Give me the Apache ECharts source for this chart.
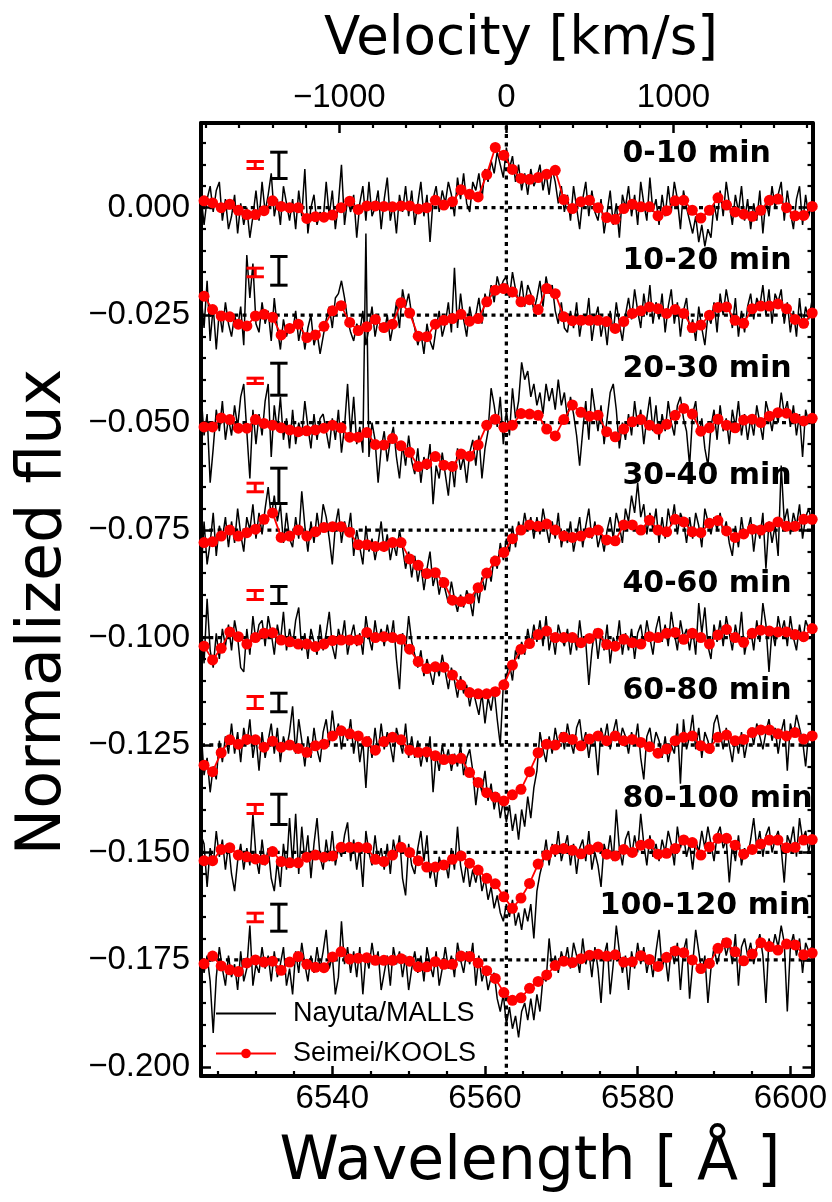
<!DOCTYPE html>
<html lang="en">
<head>
<meta charset="utf-8">
<title>H-alpha time-resolved spectra</title>
<style>
html, body { margin: 0; background: #fff; }
#container { width: 832px; height: 1202px; }
</style>
</head>
<body>
<div id="container"></div>
<script src="https://cdn.jsdelivr.net/npm/echarts@6/dist/echarts.min.js"></script>
<script>

// ---- axis ranges / tick labels ----
var waveMin = 6522.8, waveMax = 6602.9;
var fluxMin = -0.202, fluxMax = 0.0197;
var lambda0 = 6562.8;            // H-alpha rest wavelength
var cKms = 299792.458;
var waveTicks = [6540, 6560, 6580, 6600];
var velTicks = [-1000, 0, 1000];
var fluxTicks = [0, -0.025, -0.05, -0.075, -0.1, -0.125, -0.15, -0.175, -0.2];

// ---- panels ----
var panelLabels = ['0-10 min', '10-20 min', '20-30 min', '30-40 min', '40-60 min', '60-80 min', '80-100 min', '100-120 min'];
var baselines = [0, -0.025, -0.05, -0.075, -0.1, -0.125, -0.15, -0.175];
var labelWave = [6578, 6578, 6578, 6578, 6578, 6578, 6578, 6575];

// Nayuta/MALLS: sampled every 0.4 A from 6522.8 A, offsets from baseline in 0.001 units
var mallsStart = 6522.8, mallsStep = 0.4;
var malls0 = [3,-4,2,5,-1,4,6,-3,2,-5, -2,3,-6,1,-4,0,-7,-2,4,-3, 6,-1,3,8,-2,2,-4,5,1,-3, 2,-5,4,-2,9,-6,0,3,-4,-1,
  -3,6,-2,4,-5,1,10,-4,2,-1, 3,-7,1,5,-3,6,-2,0,4,-5, 2,7,-3,1,-6,3,-1,5,-2,4, -4,1,6,-2,3,-8,2,5,-1,4,
  1,6,3,-2,7,2,8,1,-1,6, 4,8,2,9,6,11,8,13,10,7, 14,9,12,6,10,4,8,3,9,5, 7,10,4,8,3,9,6,1,5,-1,
  3,-3,5,0,-5,2,6,-2,4,-1, -3,2,-6,-1,4,-4,1,-7,3,0, 5,-2,3,-4,6,1,-3,7,-1,2, -4,3,-2,5,-1,6,2,-5,4,0,
  -3,-6,-2,-8,-4,-9,-5,-7,1,-3, 4,-2,6,1,-4,3,-1,5,-3,2, -5,1,-3,4,-6,2,-2,5,0,3, 6,-3,4,-1,-5,2,5,-4,3,-2,1];
var malls1 = [5,-3,8,-6,2,-8,1,-4,3,-2, -5,0,-3,2,-7,14,4,12,-2,-4, 3,-2,1,-6,4,-3,-8,-1,-5,-2, -4,1,-6,-2,-8,-3,0,-7,-4,-9,
  -5,-1,2,-3,4,5,8,4,-1,-4, -6,-2,-4,1,-7,-3,2,-5,-1,-3, -4,0,-6,-2,3,-3,6,2,5,0, -3,-7,-4,-9,-2,-6,-8,-3,1,-5,
  -2,3,-4,11,-3,5,-1,-5,2,-2, 0,4,-2,5,2,7,3,9,6,8, 9,4,10,6,3,8,2,7,5,1, 4,8,2,9,5,7,1,-2,3,-3,
  -4,1,-3,3,-5,0,-2,4,-6,-1, 2,-5,-1,-7,1,-4,3,-2,-6,0, 4,-1,6,1,-3,5,0,7,-2,3, -1,5,-4,2,6,-2,3,-5,1,4,
  -4,-1,-6,2,-3,-7,0,-2,3,-4, 5,0,6,2,-3,4,-5,1,-4,2, 5,-1,4,2,7,0,6,-2,5,3, 6,-2,3,-4,1,-5,4,-3,2,-1,3];
var malls2 = [7,-3,2,-14,-6,3,-2,5,-4,1, -3,4,-1,6,9,-2,-13,3,-5,2, -3,5,9,-8,4,-2,6,-4,1,-6, 3,-5,0,-3,5,-1,-6,2,-4,1,
  2,-2,-6,1,-4,3,-7,-1,9,-3, 6,-5,-1,-7,44,-8,0,-4,-14,-6, -2,-9,-4,-1,-8,-13,-5,-10,-3,-9, -12,-6,-14,-8,-11,-5,-19,-10,-13,-7,
  -12,-17,-9,-15,-6,-11,-8,-14,-7,-4, -10,-3,-13,-6,-2,8,4,-1,6,-5, 3,-3,8,1,5,14,10,12,6,9, 4,7,2,9,5,8,3,10,4,7,
  1,6,2,-3,-10,-2,5,-4,8,3, -2,4,-5,1,7,9,3,-6,0,-4, 2,-3,5,-1,3,-5,1,6,-2,4, -4,2,-2,5,0,-3,4,6,1,-2,
  -10,2,5,-3,1,-6,-10,-1,3,-4, 4,-2,1,-5,3,-1,5,-3,2,-4, 1,-3,4,0,-4,5,2,-2,3,0, 7,2,5,-1,4,-3,2,-8,3,0,2];
var malls3 = [-11,2,-8,-3,4,-6,1,-2,3,-4, 2,-3,5,-1,-5,3,0,6,-2,4, -1,5,10,3,8,2,6,-3,4,-2, -4,3,-2,9,1,-5,2,-3,4,-1,
  6,3,-2,-8,1,5,-3,2,-1,4, -6,0,-4,-8,1,-5,-2,-7,-3,2, -5,-1,-7,-3,-6,0,-4,-9,-5,-11, -6,-12,-8,-14,-9,-5,-13,-10,-15,-11,
  -14,-17,-12,-16,-19,-15,-18,-14,-16,-20, -13,-17,-11,-14,-9,-12,-6,-9,-3,-7, -2,-5,1,-4,2,-1,4,0,3,-2, 3,-1,5,1,-3,2,-2,4,-4,0,
  -3,2,-5,-1,3,-4,1,5,-2,2, -4,-1,-5,0,3,-2,4,1,-3,5, 2,8,4,11,3,6,-1,4,0,5, -3,3,-2,5,1,6,-1,4,2,-3,
  3,-2,4,1,-4,5,2,-1,3,0, 4,-1,2,-3,-6,1,-4,3,-2,0, 3,-5,1,-2,4,-9,2,-3,1,-6, 15,2,5,-1,4,1,6,-2,3,5,2];
var malls4 = [4,-6,9,-3,-7,1,-5,2,-2,3, -3,4,0,-7,-8,2,-4,5,-1,3, 4,-2,5,1,-4,3,-1,6,-3,2, -2,4,7,-3,1,-5,2,-1,-4,3,
  -3,1,6,-2,-5,2,-1,4,-4,0, 3,-2,1,-4,5,0,-3,4,-1,2, -2,3,-1,4,-5,-12,1,-3,5,-1, -4,-7,-3,-9,-5,-8,-11,-6,-9,-4,
  -8,-12,-7,-10,-14,-9,-13,-11,-16,-12, -15,-18,-13,-20,-14,-17,-12,-19,-25,-11, -9,-6,-10,-3,-5,-1,-4,2,-2,3, -1,4,-2,5,-3,1,-4,3,0,-2,
  2,-4,1,-3,4,-2,-1,-11,-3,2, -5,1,-3,3,-6,0,-2,4,-4,1, -3,2,-5,1,3,-2,4,0,-4,2, 5,-1,3,-2,6,1,-3,4,0,2,
  -3,2,-4,8,1,7,-2,-5,3,-1, 4,-2,5,1,-3,3,-1,6,-4,0, 2,-3,4,-1,8,3,-8,2,-2,5, 1,4,-2,5,0,-3,3,-1,4,2,1];
var malls5 = [4,-7,-3,-11,-5,-8,1,-4,2,-2, 5,-2,3,-4,4,0,6,-3,2,-6, 3,-3,1,5,-2,4,-4,2,-1,3, 9,-2,6,1,-5,2,-3,4,-1,-4,
  3,6,0,8,2,5,-1,4,1,6, -2,3,-4,1,-10,2,-3,4,-2,5, -1,3,0,-4,4,1,-2,5,-3,2, -3,1,-5,-1,-4,2,-11,-2,-6,0,
  -4,-1,-6,-2,-5,0,-7,-3,-1,-6, -14,-8,-11,-6,-13,-9,-15,-11,-17,-13, -18,-14,-20,-16,-22,-15,-19,-12,-17,-10, -6,3,-1,-4,2,-2,4,0,3,-1,
  5,1,-2,4,6,0,3,-3,2,1, -7,4,1,5,-1,3,6,0,4,2, -2,3,0,5,-3,-8,2,4,-1,3, 1,-3,2,-4,0,-2,5,-9,6,-1,
  2,7,-1,4,-3,3,1,-2,5,7, 3,-1,4,0,-4,2,-2,3,-3,1, 4,0,5,2,-1,3,6,1,4,-2, 3,6,-6,5,2,7,4,1,-5,3,2];
var malls6 = [4,2,-8,1,-3,5,-1,3,-4,2, -5,-9,-2,2,-4,1,-3,9,-1,-5, 3,-3,1,-6,-9,-2,-8,2,-4,8, -3,9,-5,6,-2,4,-6,2,8,-1,
  -4,3,-2,5,-3,1,-1,4,7,-2, 3,-4,1,-8,5,0,-3,4,-2,1, -4,2,-5,3,-1,4,-6,-10,2,-3, -5,1,5,-2,4,-6,-3,-8,-1,-4,
  -2,-6,1,-4,6,-3,-7,-2,-8,-4, -7,-3,-9,-6,-11,-8,-13,-10,-14,-16, -12,-15,-11,-17,-14,-18,-13,-16,-12,-20, -9,-5,-2,3,-3,2,-1,5,-2,1,
  4,-3,2,-5,1,3,-2,5,-4,0, -3,-8,2,-1,4,-2,10,1,-3,3, 5,-1,4,0,9,2,-3,4,-1,2, -2,3,0,5,2,-3,6,1,4,-1,
  2,-4,3,0,5,1,6,2,-2,4, 6,1,3,-7,2,-2,4,-3,1,-1, 3,8,1,5,-1,4,6,0,3,5, 1,-7,4,2,6,-1,8,3,5,0,4];
var malls7 = [2,-3,1,-5,-17,-4,3,-2,-6,1, -4,-1,-7,2,-5,-2,8,-6,-1,-3, 3,-2,1,-5,2,-4,-1,3,-6,-2, -8,2,-3,4,-1,-5,1,-3,3,-2,
  2,7,-2,1,-8,-4,9,-1,3,-3, 2,-4,3,-8,1,-2,4,-1,2,-7, -3,1,-6,3,-1,2,-4,1,-7,-2, 2,-3,1,-5,3,-1,-4,2,-6,-2,
  3,-2,1,-4,4,0,-3,2,-1,4, -6,1,-5,-2,-7,-4,-3,-9,-12,-8, -15,-11,-16,-13,-18,-12,-10,-14,-9,-14, -8,-12,-4,-5,5,-2,1,-3,2,-1,
  3,-2,4,1,-3,5,-1,2,-4,3, -2,-10,1,4,-8,-1,8,2,-3,1, -7,2,-2,4,-1,3,-3,1,-4,2, 7,-2,1,-5,3,-1,4,-7,2,5,
  -9,-1,7,2,-3,1,-10,-2,3,-1, 2,5,1,4,-1,6,-6,3,5,1, 4,-1,3,6,1,-10,5,2,6,3, 8,4,-12,3,6,1,5,-3,4,2,3];

// Seimei/KOOLS: sampled every 1.122 A from 6523.2 A, offsets from baseline in 0.001 units
var koolsStart = 6523.2, koolsStep = 1.122;
var kools0 = [1.6,1.1,0,0.8,-0.6,-1.6,-1.6,-0.7,1.6,0.3,0,0,-2.5,-2.1,-2.2,-1.7,0,1.5,-0.4,0.4,0.4,0.3,0.2,0.4,0.4,-0.3,0,1.7,0.6,1.4,
  4.2,3.1,2.5,7.7,14.0,12.2,8.9,6.8,6.6,7.0,7.8,8.7,1.9,-0.2,1.4,1.7,0,-2.3,-2.7,-0.2,0.8,0.2,0.2,-1.9,-0.7,1.6,1.7,-0.6,-2.4,-0.6,
  2.3,0.6,-1.0,-1.5,-2.0,-0.6,1.7,2.0,0,-1.9,-1.8,0.3];
var kools1 = [4.4,1.3,-0.2,-0.4,-2.1,-2.5,-0.2,0.2,-0.5,-4.6,-3.1,-2.1,-5.2,-4.6,-2.6,1.0,2.2,-1.7,-3.6,-2.7,-1.0,-2.9,-2.1,2.9,0.5,-4.9,-5.0,-2.1,-1.2,-0.8,
  0.2,-1.4,-0.8,3.1,5.8,6.2,5.4,3.1,3.6,1.3,6.2,5.0,-0.4,-1.3,-1.2,-1.2,-1.2,-1.5,-3.1,-1.5,0.4,1.0,1.9,1.5,0.4,1.3,0.4,-2.9,-2.3,0,
  1.8,1.9,-1.2,-1.9,1.5,2.1,2.1,2.6,1.5,-1.0,-1.9,0.5];
var kools2 = [-1.0,-1.0,1.1,0.7,-1.3,-1.3,0.7,-0.2,-0.6,-1.2,-1.7,-2.1,-1.9,-1.7,-1.3,-0.6,-1.2,-3.4,-3.4,-2.3,-5.1,-5.2,-3.7,-5.4,-6.9,-10.2,-9.6,-7.9,-9.9,-10.2,
  -7.3,-7.8,-5.2,-0.6,0.8,-1.1,-0.6,2.1,2.0,1.7,-1.5,-3.1,0.7,4.1,2.4,1.5,1.7,-2.1,-3.3,-1.5,0.2,0.7,-0.6,-1.5,-0.4,1.7,3.3,2.0,-2.0,-1.2,
  0.8,-0.6,-1.2,0.6,0.8,0,1.5,2.3,2.2,1.0,0.4,1.0];
var kools3 = [-2.9,-2.7,-1.4,0,-1.4,-0.6,0.2,2.5,4.0,-1.7,-1.4,0,-1.4,-0.4,0.6,0.8,0.8,-0.5,-3.4,-3.4,-3.8,-3.8,-2.9,-2.9,-6.7,-8.2,-10.1,-9.9,-12.2,-16.3,
  -16.6,-16.0,-13.4,-10.0,-7.2,-5.2,-2.0,0,1.2,0.9,1.4,0,-1.4,-1.7,-1.4,-0.6,0,-2.3,-2.5,1.2,1.2,0,2.3,0,-0.4,2.5,1.9,-0.4,-0.6,1.6,
  2.2,-0.2,-1.7,-0.9,0.2,0,0.8,1.9,0.9,0.9,2.5,2.5];
var kools4 = [-2.0,-5.2,-2.5,1.3,0.2,-1.5,0,1.0,1.1,-0.6,-1.0,-1.5,-1.5,-2.1,-1.5,-0.7,-0.6,-0.6,-0.6,1.2,0,0.2,0,-0.4,-2.7,-5.6,-7.2,-6.8,-6.9,-8.7,
  -11.0,-12.8,-13.1,-13.1,-12.6,-11.0,-6.4,-2.7,-1.4,0.7,1.5,0,0,0,-1.2,-0.2,1.0,-1.6,-2.0,-0.4,-1.2,-1.5,0.2,0,1.0,1.2,-0.4,1.0,0,-1.5,
  0.6,1.9,0,-1.1,1.0,1.7,1.5,1.3,1.3,0.7,0.2,2.1];
var kools5 = [-4.7,-6.2,-1.8,1.2,0.2,1.3,1.2,-0.5,0.9,-0.5,0,-0.8,-1.7,-0.2,0.2,2.1,3.3,2.6,2.1,0.8,-1.2,0.8,1.8,1.2,-1.2,-1.7,-1.6,-2.5,-3.4,-3.3,
  -3.1,-6.4,-8.7,-11.1,-12.1,-13.0,-11.6,-10.3,-6.2,-1.8,0.2,0,1.8,1.3,-0.2,1.4,2.1,1.0,2.1,1.0,1.3,0.6,-0.4,-1.9,-0.9,1.0,1.8,2.1,-0.2,-0.8,
  1.8,2.3,1.0,1.3,2.9,3.5,3.5,2.6,2.1,2.9,1.4,2.1];
var kools6 = [-1.9,-1.9,0.7,1.1,-0.6,-1.0,-1.5,-1.7,0.2,-2.1,-2.4,-2.4,-1.1,-0.6,-1.1,-0.8,1.2,1.2,1.2,1.1,-1.6,-2.1,-0.6,1.2,0,-1.9,-3.4,-3.4,-2.9,-1.6,
  -0.8,-2.5,-4.1,-6.0,-7.3,-10.3,-13.0,-10.6,-7.2,-2.7,-0.6,0.7,0.9,0.5,-0.3,0.7,1.3,-0.4,-0.8,0.7,0,1.7,2.0,-0.4,-0.2,0.9,2.9,2.3,-0.6,1.3,
  3.3,3.3,1.7,-0.4,0.7,2.0,2.9,2.9,1.1,1.2,2.9,3.0];
var kools7 = [-0.9,0.9,-1.4,-2.3,-2.7,-0.7,0,-0.5,-0.3,-2.4,-0.5,0.8,-1.0,-1.7,-1.8,0.7,1.9,0.2,0.4,0.5,-0.1,-0.1,-0.1,0.3,-0.3,-1.6,-1.6,-0.4,-1.0,-1.0,
  0.9,0.8,-0.7,-2.5,-4.3,-7.6,-9.4,-8.8,-6.6,-5.0,-3.5,-1.3,-0.3,-0.6,0.3,1.1,1.3,0.9,1.2,-0.5,-0.4,1.0,0.1,-1.5,0.6,2.1,1.7,0,-2.0,-0.8,
  2.7,4.0,1.9,-0.2,1.4,4.0,3.1,2.3,3.7,3.5,1.2,1.6];

// typical error bars (centre and half length, flux units)
var mallsErrWave = 6533.0, koolsErrWave = 6529.9;
var mallsErrCenter = [0.00985, -0.01469, -0.0399, -0.06471, -0.0901, -0.11511, -0.13997, -0.16517];
var mallsErrHalf = [0.00306, 0.00334, 0.00372, 0.00411, 0.00198, 0.00216, 0.00352, 0.00314];
var koolsErrCenter = [0.00993, -0.01507, -0.04028, -0.06509, -0.0901, -0.11511, -0.13988, -0.16512];
var koolsErrHalf = [0.00081, 0.001, 0.00062, 0.001, 0.00105, 0.0014, 0.00105, 0.001];

var mallsPanels = [malls0, malls1, malls2, malls3, malls4, malls5, malls6, malls7];
var koolsPanels = [kools0, kools1, kools2, kools3, kools4, kools5, kools6, kools7];

var dom = document.getElementById('container');
var myChart = echarts.init(dom, null, { renderer: 'canvas' });

var tickFont = 'Liberation Sans, Arial, sans-serif';
var titleFont = 'DejaVu Sans, sans-serif';
var black = '#000000';
var red = '#ff0000';

function toVel(w) { return (w / lambda0 - 1) * cKms; }
function minus(s) { return s.replace('-', '\u2212'); }

// minor tick positions
var waveMinor = [];
for (var w = 6525; w <= 6600; w += 5) { if (w % 20 !== 0) waveMinor.push(w); }
var velMinor = [];
for (var v = -1800; v <= 1800; v += 200) { if (v % 1000 !== 0) velMinor.push(v); }
var fluxMinor = [];
for (var k = 3; k >= -40; k--) { if (k % 5 !== 0) fluxMinor.push(k * 0.005); }

function valueAxis(pos, min, max, major, minor, withLabels, fmt, margin) {
    return [{
        type: 'value', position: pos, min: min, max: max,
        axisLine: { show: true, onZero: false, lineStyle: { color: black, width: 4 } },
        axisTick: { show: true, inside: true, length: 10, customValues: major, lineStyle: { color: black, width: 2.5 } },
        axisLabel: { show: withLabels, customValues: major, formatter: fmt, color: black,
            fontFamily: tickFont, fontSize: 33, margin: margin },
        splitLine: { show: false }
    }, {
        type: 'value', position: pos, min: min, max: max,
        axisLine: { show: false, onZero: false },
        axisTick: { show: true, inside: true, length: 5, customValues: minor, lineStyle: { color: black, width: 2.2 } },
        axisLabel: { show: false },
        splitLine: { show: false }
    }];
}

var xAxes = valueAxis('bottom', waveMin, waveMax, waveTicks, waveMinor, true,
    function (v) { return String(v); }, 6)
    .concat(valueAxis('top', toVel(waveMin), toVel(waveMax), velTicks, velMinor, true,
    function (v) { return minus(String(Math.round(v))); }, 9));
var yAxes = valueAxis('left', fluxMin, fluxMax, fluxTicks, fluxMinor, true,
    function (v) { return minus(v.toFixed(3)); }, 11)
    .concat(valueAxis('right', fluxMin, fluxMax, fluxTicks, fluxMinor, false, null, 8));

var series = [];

// dotted guides: baselines and rest wavelength
baselines.forEach(function (b) {
    series.push({
        type: 'line', silent: true, symbol: 'none', z: 1,
        data: [[waveMin, b], [waveMax, b]],
        lineStyle: { color: black, width: 3.3, type: [4, 4.3] }
    });
});
series.push({
    type: 'line', silent: true, symbol: 'none', z: 1,
    data: [[lambda0, fluxMin], [lambda0, fluxMax]],
    lineStyle: { color: black, width: 3.3, type: [4, 4.3] }
});

mallsPanels.forEach(function (arr, p) {
    series.push({
        name: 'Nayuta/MALLS', type: 'line', symbol: 'none', showSymbol: false, z: 2,
        data: arr.map(function (v, j) { return [mallsStart + mallsStep * j, baselines[p] + v / 1000]; }),
        lineStyle: { color: black, width: 1.5 },
        itemStyle: { color: black }
    });
});

koolsPanels.forEach(function (arr, p) {
    series.push({
        name: 'Seimei/KOOLS', type: 'line', symbol: 'circle', symbolSize: 11, z: 3,
        data: arr.map(function (v, i) { return [koolsStart + koolsStep * i, baselines[p] + v / 1000]; }),
        lineStyle: { color: red, width: 1.8 },
        itemStyle: { color: red }
    });
});

function errorBars(wave, centers, halves, color) {
    return {
        type: 'custom', z: 4, silent: true,
        data: centers.map(function (c, p) { return [wave, c - halves[p], c + halves[p]]; }),
        renderItem: function (params, api) {
            var lo = api.coord([api.value(0), api.value(1)]);
            var hi = api.coord([api.value(0), api.value(2)]);
            var w = 8.7;
            var st = { stroke: color, lineWidth: 3 };
            return {
                type: 'group',
                children: [
                    { type: 'line', shape: { x1: lo[0], y1: lo[1], x2: hi[0], y2: hi[1] }, style: st },
                    { type: 'line', shape: { x1: lo[0] - w, y1: lo[1], x2: lo[0] + w, y2: lo[1] }, style: st },
                    { type: 'line', shape: { x1: hi[0] - w, y1: hi[1], x2: hi[0] + w, y2: hi[1] }, style: st }
                ]
            };
        }
    };
}
series.push(errorBars(koolsErrWave, koolsErrCenter, koolsErrHalf, red));
series.push(errorBars(mallsErrWave, mallsErrCenter, mallsErrHalf, black));

// time-bin labels
series.push({
    type: 'scatter', z: 5, silent: true, symbolSize: 0,
    itemStyle: { opacity: 1 },
    data: panelLabels.map(function (name, p) {
        return { name: name, value: [labelWave[p], baselines[p] + 0.0125] };
    }),
    label: {
        show: true, position: 'right', distance: 0, formatter: '{b}', opacity: 1,
        fontFamily: titleFont, fontWeight: 'bold', fontSize: 30, color: black
    }
});

var option = {
    animation: false,
    backgroundColor: '#ffffff',
    grid: { left: 201, right: 19.5, top: 123, bottom: 126, containLabel: false },
    xAxis: xAxes,
    yAxis: yAxes,
    legend: {
        data: [
            { name: 'Nayuta/MALLS', itemStyle: { opacity: 0 } },
            { name: 'Seimei/KOOLS' }
        ],
        orient: 'vertical', left: 210, top: 995,
        itemWidth: 60, itemHeight: 12, itemGap: 13,
        selectedMode: false,
        textStyle: { fontFamily: tickFont, fontSize: 27, color: black, padding: [0, 0, 0, 12] }
    },
    graphic: [
        { type: 'text', x: 521, y: 40, style: { text: 'Velocity [km/s]', font: '53px ' + titleFont,
            fill: black, textAlign: 'center', textVerticalAlign: 'middle' } },
        { type: 'text', x: 530, y: 1163, style: { text: 'Wavelength [ \u00c5 ]', font: '60px ' + titleFont,
            fill: black, textAlign: 'center', textVerticalAlign: 'middle' } },
        { type: 'text', x: 44, y: 612, rotation: Math.PI / 2, style: { text: 'Normalized flux', font: '62px ' + titleFont,
            fill: black, textAlign: 'center', textVerticalAlign: 'middle' } }
    ],
    series: series
};

myChart.setOption(option);
window.addEventListener('resize', myChart.resize);
</script>
</body>
</html>
